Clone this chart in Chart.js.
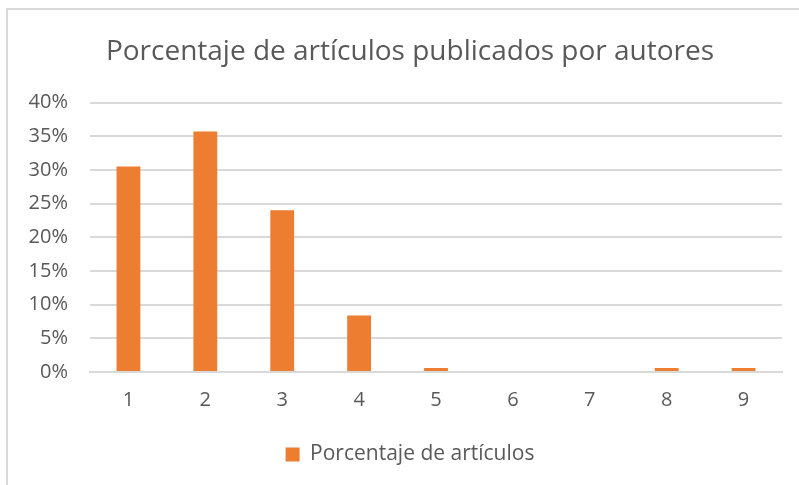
<!DOCTYPE html>
<html>
<head>
<meta charset="utf-8">
<script src="https://cdn.jsdelivr.net/npm/chart.js@4.4.1/dist/chart.umd.min.js"></script>
<style>
	body { margin: 0; background: #fff; }
	#frame {
		position: absolute; left: 6px; top: 8px; width: 793px; height: 477px;
		border-top: 2px solid #d9d9d9; border-left: 2px solid #d9d9d9;
		box-sizing: border-box;
	}
	#chart_div { position: absolute; left: 2px; top: 2px; width: 789px; height: 473px; }
</style>
</head>
<body>
<div id="frame"><div id="chart_div"><canvas id="chart"></canvas></div></div>
<script>
// valores
const CATEGORIAS = ['1', '2', '3', '4', '5', '6', '7', '8', '9'];
const PORCENTAJES = [30.5, 35.7, 24.0, 8.4, 0.6, 0, 0, 0.6, 0.6];
const TITULO = 'Porcentaje de artículos publicados por autores';
const SERIE = 'Porcentaje de artículos';
const FONT = "'Open Sans', sans-serif";

// the y labels reach into the left padding, so widen the label clip area
const unclip_y_labels = {
	id: 'unclip_y_labels',
	afterLayout(chart) {
		chart.scales.y.left -= 28;
	}
};

let chart = new Chart(document.getElementById('chart'), {
	type: 'bar',
	data: {
		labels: CATEGORIAS,
		datasets: [{
			label: SERIE,
			data: PORCENTAJES,
			backgroundColor: '#ed7d31',
			borderWidth: 0,
			barPercentage: 0.31,
			categoryPercentage: 1
		}]
	},
	plugins: [unclip_y_labels],
	options: {
		responsive: true,
		maintainAspectRatio: false,
		animation: false,
		layout: { padding: { left: 28, right: 17, top: 23, bottom: 10 } },
		plugins: {
			title: {
				display: true,
				text: TITULO,
				color: '#595959',
				font: { family: FONT, size: 28, weight: 'normal' },
				padding: { top: 0, bottom: 34 }
			},
			legend: {
				position: 'bottom',
				labels: {
					color: '#595959',
					font: { family: FONT, size: 21 },
					boxWidth: 14,
					boxHeight: 14,
					padding: 8
				}
			},
			tooltip: { enabled: false }
		},
		scales: {
			x: {
				afterFit: (scale) => { scale.height += 8; },
				grid: { display: false, drawTicks: false },
				border: { color: '#d9d9d9', width: 2 },
				ticks: { color: '#595959', font: { family: FONT, size: 20 }, padding: 16 }
			},
			y: {
				min: 0,
				max: 40,
				afterFit: (scale) => { scale.width = 52; },
				grid: { color: '#d9d9d9', lineWidth: 2, drawTicks: false },
				border: { display: false },
				ticks: {
					stepSize: 5,
					color: '#595959',
					font: { family: FONT, size: 20 },
					padding: 22,
					callback: (v) => v + '%'
				}
			}
		}
	}
});
</script>
</body>
</html>
